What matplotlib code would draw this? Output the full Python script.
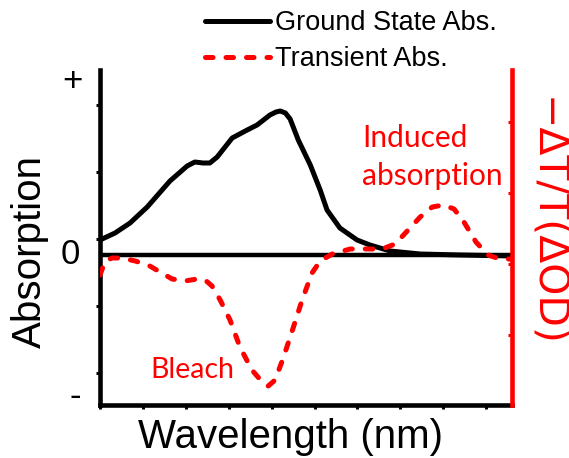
import matplotlib
matplotlib.use("Agg")
import matplotlib.pyplot as plt
import matplotlib.transforms as mtransforms

# Wavelength axis in arbitrary units, absorbance in arbitrary units
gs_wavelength = [0.0, 3.5, 7.0, 11.0, 16.3, 20.3, 22.1, 24.0, 25.6, 27.3, 30.8, 34.3,
                 36.6, 39.6, 41.0, 42.0, 43.2, 44.3, 46.2, 49.0, 51.3, 52.9, 55.9,
                 59.9, 62.9, 67.6, 74.6, 83.9, 96.0]
gs_absorbance = [0.15, 0.22, 0.32, 0.48, 0.74, 0.89, 0.93, 0.92, 0.92, 0.98, 1.17, 1.25,
                 1.30, 1.40, 1.43, 1.44, 1.42, 1.36, 1.15, 0.90, 0.65, 0.45, 0.27,
                 0.15, 0.10, 0.04, 0.01, 0.00, -0.01]

ta_wavelength = [0.0, 1.2, 2.8, 5.1, 8.2, 11.2, 14.0, 16.8, 19.8, 22.6, 24.5, 26.1,
                 28.0, 30.3, 32.6, 35.4, 37.8, 39.2, 40.8, 42.7, 45.0, 47.1, 49.4,
                 51.3, 54.1, 58.3, 61.8, 65.7, 68.8, 71.8, 74.6, 77.4, 80.0, 82.5,
                 84.8, 87.6, 90.4, 93.2, 96.0]
ta_signal = [-0.20, -0.06, -0.03, -0.03, -0.06, -0.10, -0.17, -0.24, -0.26, -0.24, -0.25,
             -0.31, -0.45, -0.65, -0.92, -1.15, -1.27, -1.31, -1.25, -1.03, -0.73, -0.45,
             -0.18, -0.06, 0.01, 0.06, 0.06, 0.06, 0.11, 0.25, 0.38, 0.48, 0.50, 0.46,
             0.33, 0.13, 0.00, -0.04, -0.04]

x_ticks = [0, 10, 20, 30, 40, 50, 60, 70, 80, 90]
left_ticks = [-1.18, -0.51, 0.16, 0.83, 1.50]
right_ticks = [-0.80, -0.09, 0.62, 1.33]
left_marks = [("+", 1.73, -0.068), ("0", 0.0, -0.073), ("-", -1.42, -0.061)]

W, H = 569, 458
fig = plt.figure(figsize=(W / 100, H / 100), dpi=100)
ax = fig.add_axes([100 / W, (H - 405) / H, 412 / W, 335 / H])

sans = "Liberation Sans"
soft = "Lato"
lw = 3.6

ax.set_xlim(0, 96)
ax.set_ylim(-1.50, 1.85)

ax.axhline(0, color="black", lw=3.2, zorder=2)
gs_line, = ax.plot(gs_wavelength, gs_absorbance, color="black", lw=lw,
                   solid_capstyle="round", solid_joinstyle="round", zorder=3,
                   label="Ground State Abs.")

ax2 = ax.twinx()
ax2.set_ylim(-1.50, 1.85)
ta_line, = ax2.plot(ta_wavelength, ta_signal, color="red", lw=lw,
                    linestyle=(0, (1.5, 2.6)), dash_capstyle="round", zorder=3,
                    label="Transient Abs.")

# spines
for a in (ax, ax2):
    a.spines["top"].set_visible(False)
ax.spines["right"].set_visible(False)
ax.spines["left"].set_linewidth(3.3)
ax.spines["bottom"].set_linewidth(3.3)
ax2.spines["left"].set_visible(False)
ax2.spines["bottom"].set_visible(False)
ax2.spines["right"].set_color("red")
ax2.spines["right"].set_linewidth(3.3)

ax.set_xticks(x_ticks)
ax.set_yticks(left_ticks)
ax.tick_params(axis="x", direction="out", length=3, width=2.2, labelbottom=False)
ax.tick_params(axis="y", direction="out", length=3, width=2.2, labelleft=False)
ax2.set_yticks(right_ticks)
ax2.tick_params(axis="y", direction="in", length=3, width=2.2, color="red",
                labelright=False)

# qualitative sign markers on the left axis
trans = mtransforms.blended_transform_factory(ax.transAxes, ax.transData)
for txt, yv, xa in left_marks:
    ax.text(xa, yv, txt, transform=trans, ha="center", va="center",
            fontsize=25, family=sans, color="black")

ax.set_xlabel("Wavelength (nm)", fontsize=29, family=sans)
ax.xaxis.set_label_coords(190 / 412, -13 / 335)
ax.set_ylabel("Absorption", fontsize=29, family=sans)
ax.yaxis.set_label_coords(-51 / 412, 153 / 335)

fig.text(546 / W, 1 - 222 / H, "\u2212\u0394T/T(\u0394OD)", fontsize=29.5,
         family="DejaVu Sans", color="red", rotation=-90, ha="center", va="center")

fig.text(362 / W, 1 - 147 / H, "Induced", ha="left", va="baseline",
         fontsize=21.5, family=soft, color="red")
fig.text(362 / W, 1 - 185 / H, "absorption", ha="left", va="baseline",
         fontsize=21.5, family=soft, color="red")
fig.text(150 / W, 1 - 378 / H, "Bleach", ha="left", va="baseline",
         fontsize=20.5, family=soft, color="red")

fig.legend(handles=[gs_line, ta_line], loc="upper left",
           bbox_to_anchor=(205 / W, 1 - 10 / H), frameon=False,
           prop={"family": sans, "size": 19.5}, handlelength=2.4,
           handletextpad=0.2, labelspacing=0.38, borderpad=0, borderaxespad=0)

fig.savefig("out.png", dpi=100)
